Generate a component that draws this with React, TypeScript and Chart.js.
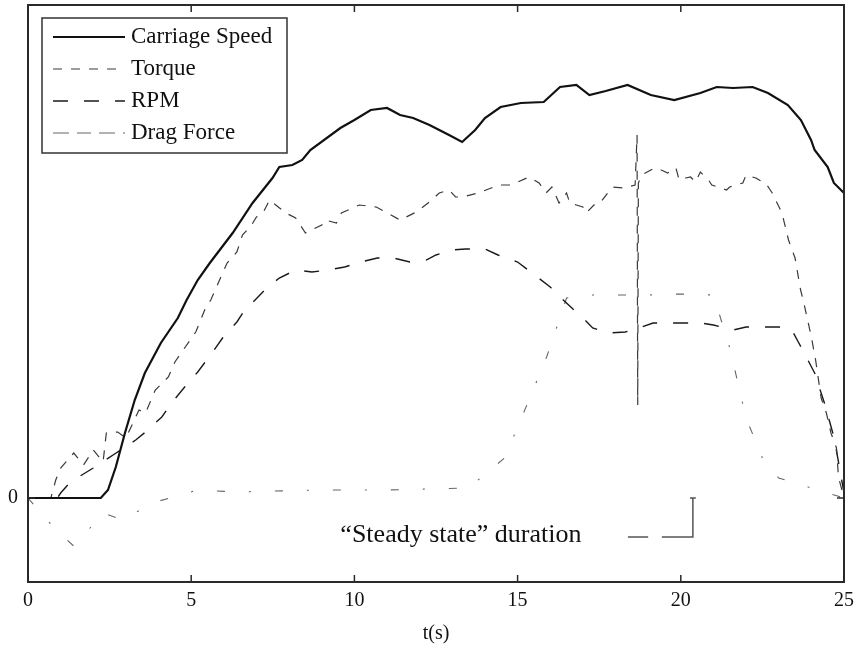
import React, { useEffect, useRef } from "react";
import { Chart, registerables } from "chart.js";

Chart.register(...registerables);

// ---- data (time in s, values in arbitrary units; 0 baseline) ----
const xTicks = [0, 5, 10, 15, 20, 25];
const yTicks = [0];
const yTickLabels = ["0"];

const speedT = [0, 1.0, 2.23, 2.45, 2.69, 2.97, 3.27, 3.58, 4.07, 4.59, 4.86, 5.2, 5.57, 6.27, 6.88, 7.49, 7.7, 8.1, 8.4, 8.65, 9.57, 10.0, 10.5, 11.0, 11.4, 11.8, 12.3, 12.9, 13.3, 13.7, 14.0, 14.48, 15.1, 15.8, 16.3, 16.8, 17.2, 17.7, 18.37, 19.08, 19.8, 20.6, 21.1, 21.6, 22.2, 22.67, 23.28, 23.68, 23.99, 24.1, 24.5, 24.69, 25.0];
const speedV = [0, 0, 0, 0.08, 0.31, 0.65, 0.98, 1.25, 1.55, 1.8, 1.98, 2.18, 2.35, 2.65, 2.95, 3.2, 3.31, 3.33, 3.38, 3.48, 3.7, 3.78, 3.88, 3.9, 3.83, 3.8, 3.73, 3.63, 3.56, 3.68, 3.8, 3.91, 3.95, 3.96, 4.11, 4.13, 4.03, 4.07, 4.13, 4.03, 3.98, 4.05, 4.11, 4.1, 4.11, 4.05, 3.93, 3.78, 3.58, 3.48, 3.31, 3.15, 3.05];

const torqueT = [0, 0.7, 0.85, 1.0, 1.4, 1.7, 2.0, 2.3, 2.4, 2.75, 3.0, 3.4, 3.6, 3.9, 4.3, 4.5, 5.14, 5.45, 5.6, 6.1, 6.4, 6.57, 6.85, 7.0, 7.2, 7.4, 7.9, 8.2, 8.5, 9.0, 9.1, 9.45, 9.6, 10.15, 10.67, 11.4, 11.9, 12.3, 12.6, 12.9, 13.1, 13.3, 13.8, 14.43, 14.8, 15.35, 15.66, 15.87, 16.05, 16.27, 16.5, 16.6, 16.8, 17.0, 17.1, 17.4, 17.55, 17.9, 18.26, 18.6, 18.66, 18.68, 18.7, 18.8, 19.2, 19.4, 19.6, 19.85, 19.95, 20.15, 20.3, 20.45, 20.6, 20.85, 20.95, 21.4, 21.5, 21.9, 22.0, 22.3, 22.5, 22.6, 22.7, 22.8, 23.1, 23.3, 23.5, 23.67, 23.75, 24.0, 24.13, 24.3, 24.46, 24.6, 24.77, 24.83, 25.0];
const torqueV = [0, 0, 0.18, 0.3, 0.45, 0.33, 0.48, 0.36, 0.65, 0.66, 0.6, 0.88, 0.85, 1.08, 1.21, 1.36, 1.66, 1.91, 1.98, 2.35, 2.46, 2.63, 2.73, 2.81, 2.85, 2.98, 2.85, 2.8, 2.65, 2.73, 2.78, 2.75, 2.85, 2.93, 2.91, 2.78, 2.86, 2.96, 3.05, 3.08, 3.01, 3.01, 3.05, 3.13, 3.13, 3.21, 3.15, 3.05, 3.11, 2.95, 3.05, 2.95, 2.93, 2.91, 2.85, 2.95, 2.96, 3.11, 3.1, 3.13, 3.63, 0.93, 3.15, 3.23, 3.3, 3.28, 3.25, 3.3, 3.18, 3.2, 3.21, 3.16, 3.26, 3.18, 3.13, 3.08, 3.11, 3.15, 3.23, 3.2, 3.16, 3.15, 3.1, 3.05, 2.85, 2.58, 2.4, 2.08, 1.98, 1.61, 1.38, 1.0, 0.85, 0.65, 0.5, 0.21, 0];

const rpmT = [0, 0.9, 1.0, 1.3, 2.0, 2.7, 3.3, 3.6, 4.1, 4.4, 4.8, 5.2, 5.66, 5.96, 6.4, 6.6, 7.25, 7.7, 8.2, 8.7, 9.2, 9.7, 10.2, 10.7, 11.2, 11.7, 12.2, 12.5, 13.0, 13.4, 14.0, 14.4, 15.0, 15.4, 16.0, 16.4, 17.0, 17.3, 17.8, 18.3, 18.8, 19.15, 19.6, 20.0, 20.6, 21.0, 21.6, 22.0, 22.5, 23.0, 23.4, 23.6, 23.7, 24.1, 24.4, 24.7, 25.0];
const rpmV = [0, 0, 0.05, 0.16, 0.3, 0.45, 0.58, 0.66, 0.81, 0.95, 1.11, 1.26, 1.46, 1.6, 1.76, 1.86, 2.08, 2.2, 2.28, 2.26, 2.28, 2.31, 2.36, 2.4, 2.4, 2.36, 2.38, 2.43, 2.48, 2.49, 2.49, 2.43, 2.36, 2.26, 2.11, 1.98, 1.8, 1.7, 1.65, 1.66, 1.71, 1.75, 1.75, 1.75, 1.75, 1.73, 1.68, 1.71, 1.71, 1.71, 1.68, 1.56, 1.5, 1.25, 0.95, 0.6, 0.05];

const dragT = [0, 0.8, 1.4, 1.9, 2.3, 2.9, 3.8, 5.2, 6.4, 8.9, 11.0, 13.5, 14.6, 15.4, 15.9, 16.5, 17.0, 19.0, 20.0, 21.0, 21.5, 22.0, 22.5, 23.0, 24.0, 25.0];
const dragV = [0, -0.3, -0.48, -0.3, -0.15, -0.22, -0.05, 0.08, 0.06, 0.08, 0.08, 0.1, 0.4, 1.02, 1.42, 2.0, 2.03, 2.03, 2.04, 2.03, 1.5, 0.8, 0.4, 0.2, 0.1, 0];

const seriesLabels = ["Carriage Speed", "Torque", "RPM", "Drag Force"];
const annotationText = "\u201cSteady state\u201d duration";
const xTitle = "t(s)";

const SERIF = "'Liberation Serif', 'DejaVu Serif', serif";

function pts(t: number[], v: number[]) {
  return t.map((x, i) => ({ x, y: v[i] }));
}

const framePlugin = {
  id: "matlabFrame",
  afterDatasetsDraw(chart: any) {
    const { ctx, chartArea: a, scales } = chart;
    const xs = scales.x;
    const ys = scales.y;
    ctx.save();
    // box
    ctx.strokeStyle = "#2a2a2a";
    ctx.lineWidth = 2;
    ctx.setLineDash([]);
    ctx.strokeRect(a.left, a.top, a.right - a.left, a.bottom - a.top);
    // inward ticks
    ctx.lineWidth = 1.5;
    const tl = 7;
    xTicks.forEach((t) => {
      const px = xs.getPixelForValue(t);
      ctx.beginPath();
      ctx.moveTo(px, a.bottom);
      ctx.lineTo(px, a.bottom - tl);
      ctx.moveTo(px, a.top);
      ctx.lineTo(px, a.top + tl);
      ctx.stroke();
    });
    yTicks.forEach((v) => {
      const py = ys.getPixelForValue(v);
      ctx.beginPath();
      ctx.moveTo(a.left, py);
      ctx.lineTo(a.left + tl, py);
      ctx.moveTo(a.right, py);
      ctx.lineTo(a.right - tl, py);
      ctx.stroke();
    });

    // annotation: "Steady state" duration with bracket
    ctx.fillStyle = "#111";
    ctx.font = `26px ${SERIF}`;
    ctx.textAlign = "left";
    ctx.textBaseline = "alphabetic";
    ctx.fillText(annotationText, xs.getPixelForValue(9.57), ys.getPixelForValue(-0.44));
    ctx.strokeStyle = "#555";
    ctx.lineWidth = 1.5;
    const yb = ys.getPixelForValue(-0.39);
    const y0 = ys.getPixelForValue(0);
    ctx.beginPath();
    ctx.moveTo(xs.getPixelForValue(18.38), yb);
    ctx.lineTo(xs.getPixelForValue(19.0), yb);
    ctx.moveTo(xs.getPixelForValue(19.42), yb);
    ctx.lineTo(xs.getPixelForValue(20.37), yb);
    ctx.lineTo(xs.getPixelForValue(20.37), y0);
    ctx.moveTo(xs.getPixelForValue(20.28), y0);
    ctx.lineTo(xs.getPixelForValue(20.46), y0);
    ctx.stroke();

    // legend box
    const lx = 42, ly = 18, lw = 245, lh = 135;
    ctx.fillStyle = "#fff";
    ctx.fillRect(lx, ly, lw, lh);
    ctx.strokeStyle = "#333";
    ctx.lineWidth = 1.5;
    ctx.strokeRect(lx, ly, lw, lh);
    chart.data.datasets.forEach((ds: any, i: number) => {
      const ry = 37 + i * 32;
      ctx.strokeStyle = ds.borderColor;
      ctx.lineWidth = Math.max(1.2, ds.borderWidth);
      ctx.setLineDash(ds.legendDash || ds.borderDash || []);
      ctx.beginPath();
      ctx.moveTo(53, ry);
      ctx.lineTo(125, ry);
      ctx.stroke();
      ctx.setLineDash([]);
      ctx.fillStyle = "#111";
      ctx.font = `23px ${SERIF}`;
      ctx.textBaseline = "middle";
      ctx.fillText(ds.label, 131, ry);
    });
    ctx.restore();
  },
};

export default function App() {
  const ref = useRef<HTMLCanvasElement | null>(null);
  useEffect(() => {
    if (!ref.current) return;
    const chart = new Chart(ref.current, {
      type: "line",
      data: {
        datasets: [
          {
            label: seriesLabels[0],
            data: pts(speedT, speedV),
            borderColor: "#111",
            borderWidth: 2.2,
            pointRadius: 0,
            tension: 0,
          },
          {
            label: seriesLabels[1],
            data: pts(torqueT, torqueV),
            borderColor: "#3a3a3a",
            borderWidth: 1.2,
            borderDash: [9, 9],
            pointRadius: 0,
            tension: 0,
          },
          {
            label: seriesLabels[2],
            data: pts(rpmT, rpmV),
            borderColor: "#1a1a1a",
            borderWidth: 1.4,
            borderDash: [15, 16],
            pointRadius: 0,
            tension: 0,
          },
          {
            label: seriesLabels[3],
            data: pts(dragT, dragV),
            borderColor: "#666",
            borderWidth: 1.1,
            borderDash: [8, 24, 2, 24],
            legendDash: [16, 8, 14, 8],
            pointRadius: 0,
            tension: 0,
          } as any,
        ],
      },
      options: {
        animation: false,
        responsive: false,
        devicePixelRatio: 1,
        layout: { padding: { left: 0, right: 13, top: 5, bottom: 0 } },
        plugins: { legend: { display: false }, tooltip: { enabled: false } },
        scales: {
          x: {
            type: "linear",
            min: 0,
            max: 25,
            grid: { display: false, drawTicks: false },
            border: { display: false },
            afterBuildTicks: (s: any) => {
              s.ticks = xTicks.map((v) => ({ value: v }));
            },
            afterFit: (s: any) => {
              s.height = 64;
              s.paddingLeft = 0;
              s.paddingRight = 0;
            },
            ticks: {
              color: "#111",
              padding: 7,
              maxRotation: 0,
              autoSkip: false,
              font: { family: SERIF, size: 20 },
              callback: (v: any) => String(v),
            },
            title: {
              display: true,
              text: xTitle,
              color: "#111",
              padding: 0,
              font: { family: SERIF, size: 20 },
            },
          },
          y: {
            type: "linear",
            min: -0.84,
            max: 4.93,
            grid: { display: false, drawTicks: false },
            border: { display: false },
            afterBuildTicks: (s: any) => {
              s.ticks = yTicks.map((v) => ({ value: v }));
            },
            afterFit: (s: any) => {
              s.width = 28;
              s.paddingTop = 0;
              s.paddingBottom = 0;
            },
            ticks: {
              color: "#111",
              padding: 10,
              autoSkip: false,
              font: { family: SERIF, size: 20 },
              callback: (v: any) => {
                const i = yTicks.indexOf(Number(v));
                return i >= 0 ? yTickLabels[i] : "";
              },
            },
          },
        },
      },
      plugins: [framePlugin],
    });
    return () => chart.destroy();
  }, []);

  return (
    <div style={{ position: "absolute", left: 0, top: 0, width: 857, height: 646, background: "#fff" }}>
      <canvas ref={ref} width={857} height={646} style={{ display: "block", width: 857, height: 646 }} />
    </div>
  );
}
